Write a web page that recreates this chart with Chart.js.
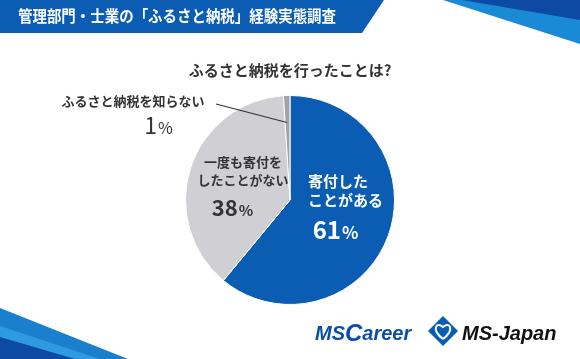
<!DOCTYPE html>
<html>
<head>
<meta charset="utf-8">
<script src="https://cdn.jsdelivr.net/npm/chart.js@4/dist/chart.umd.min.js"></script>
<style>
  html, body { margin: 0; padding: 0; background: #fff; }
  #wrap { width: 580px; height: 359px; position: relative; }
</style>
</head>
<body>
<div id="wrap"><canvas id="pie" width="580" height="359"></canvas></div>
<script>
  const headerTitle = '管理部門・士業の「ふるさと納税」経験実態調査';
  const question = 'ふるさと納税を行ったことは?';
  const categories = [['寄付した', 'ことがある'], ['一度も寄付を', 'したことがない'], ['ふるさと納税を知らない']];
  const shares = [61, 38, 1];
  const sliceColors = ['#0b5db3', '#d0d0d4', '#a3a3a6'];

  const JP = '"Noto Sans CJK JP", "Noto Sans", sans-serif';
  const LOGO = '"Liberation Sans", Arial, sans-serif';

  function poly(ctx, pts, color) {
    ctx.fillStyle = color;
    ctx.beginPath();
    ctx.moveTo(pts[0][0], pts[0][1]);
    for (let i = 1; i < pts.length; i++) ctx.lineTo(pts[i][0], pts[i][1]);
    ctx.closePath();
    ctx.fill();
  }

  // number big, % sign smaller, centred on x
  function percent(ctx, value, x, y, size, weight) {
    ctx.save();
    ctx.textAlign = 'left';
    ctx.textBaseline = 'alphabetic';
    const num = String(value);
    ctx.font = weight + ' ' + size + 'px ' + JP;
    const w1 = ctx.measureText(num).width;
    ctx.font = weight + ' ' + Math.round(size * 0.7) + 'px ' + JP;
    const w2 = ctx.measureText('%').width;
    const left = x - (w1 + w2) / 2;
    ctx.font = weight + ' ' + size + 'px ' + JP;
    ctx.fillText(num, left, y);
    ctx.font = weight + ' ' + Math.round(size * 0.7) + 'px ' + JP;
    ctx.fillText('%', left + w1 + 1, y);
    ctx.restore();
  }

  // banner, corner stripes, question text
  const decorPlugin = {
    id: 'decor',
    beforeDraw: (chart) => {
      const ctx = chart.ctx;
      ctx.save();
      poly(ctx, [[0, 0], [384, 0], [362, 33], [0, 33]], '#0b5db3');
      poly(ctx, [[443, 0], [580, 0], [580, 44]], '#1a8ad6');
      poly(ctx, [[462, 0], [580, 0], [580, 20]], '#0d4aa6');
      poly(ctx, [[0, 308], [128, 359], [0, 359]], '#1a7fcc');
      poly(ctx, [[0, 326], [100, 359], [0, 359]], '#2f9ae0');
      poly(ctx, [[0, 337], [75, 359], [0, 359]], '#0d4aa6');

      ctx.fillStyle = '#ffffff';
      ctx.font = 'bold 16px ' + JP;
      ctx.textBaseline = 'middle';
      ctx.textAlign = 'left';
      ctx.fillText(headerTitle, 18, 16, 318);

      ctx.fillStyle = '#333333';
      ctx.font = 'bold 15px ' + JP;
      ctx.textAlign = 'center';
      ctx.fillText(question, 290, 70);
      ctx.restore();
    }
  };

  // slice labels, leader line and logos
  const labelPlugin = {
    id: 'sliceLabels',
    afterDraw: (chart) => {
      const ctx = chart.ctx;
      const arcs = chart.getDatasetMeta(0).data;
      const cx = arcs[0].x, cy = arcs[0].y, r = arcs[0].outerRadius;
      ctx.save();
      ctx.textAlign = 'center';
      ctx.textBaseline = 'middle';

      // 61%
      ctx.fillStyle = '#ffffff';
      ctx.font = 'bold 15px ' + JP;
      ctx.textAlign = 'left';
      ctx.fillText(categories[0][0], cx + 18, cy - 19);
      ctx.fillText(categories[0][1], cx + 18, cy);
      ctx.textAlign = 'center';
      percent(ctx, shares[0], cx + 45, cy + 39, 24, 'bold');

      // 38%
      ctx.fillStyle = '#333333';
      ctx.font = 'bold 13px ' + JP;
      ctx.fillText(categories[1][0], cx - 47, cy - 38);
      ctx.fillText(categories[1][1], cx - 47, cy - 20);
      percent(ctx, shares[1], cx - 58, cy + 16, 22, 'bold');

      // 1%
      ctx.font = 'bold 13px ' + JP;
      ctx.fillText(categories[2][0], 133, 101);
      percent(ctx, shares[2], 158, 134, 23, 'normal');

      ctx.strokeStyle = '#333333';
      ctx.lineWidth = 1.2;
      ctx.beginPath();
      ctx.moveTo(216, 104);
      ctx.lineTo(cx - 3, cy - r + 27);
      ctx.stroke();

      // logos
      ctx.textAlign = 'left';
      ctx.textBaseline = 'alphabetic';
      ctx.fillStyle = '#0b4ea8';
      ctx.font = 'italic bold 20px ' + LOGO;
      ctx.fillText('MS', 315, 340);
      const wMS = ctx.measureText('MS').width;
      ctx.font = 'italic bold 24px ' + LOGO;
      ctx.fillText('C', 315 + wMS, 341);
      const wC = ctx.measureText('C').width;
      ctx.font = 'italic bold 20px ' + LOGO;
      ctx.fillText('areer', 315 + wMS + wC, 340);

      // diamond mark
      const dx = 443, dy = 331;
      ctx.fillStyle = '#0b5db3';
      ctx.beginPath();
      ctx.moveTo(dx, dy - 15); ctx.lineTo(dx + 15, dy); ctx.lineTo(dx, dy + 15); ctx.lineTo(dx - 15, dy);
      ctx.closePath(); ctx.fill();
      ctx.strokeStyle = '#ffffff';
      ctx.lineWidth = 2;
      ctx.beginPath();
      ctx.moveTo(dx, dy + 8);
      ctx.bezierCurveTo(dx - 12, dy - 1, dx - 7, dy - 10, dx, dy - 4);
      ctx.bezierCurveTo(dx + 7, dy - 10, dx + 12, dy - 1, dx, dy + 8);
      ctx.stroke();

      ctx.fillStyle = '#111111';
      ctx.font = 'italic bold 20px ' + LOGO;
      ctx.fillText('MS-Japan', 462, 340, 96);
      ctx.restore();
    }
  };

  new Chart(document.getElementById('pie').getContext('2d'), {
    type: 'pie',
    data: {
      labels: categories.map(c => c.join('')),
      datasets: [{
        data: shares,
        backgroundColor: sliceColors,
        borderColor: '#ffffff',
        borderWidth: 1
      }]
    },
    options: {
      responsive: false,
      animation: false,
      layout: { padding: { left: 185, right: 185, top: 95, bottom: 54 } },
      plugins: {
        legend: { display: false },
        tooltip: { enabled: false }
      }
    },
    plugins: [decorPlugin, labelPlugin]
  });
</script>
</body>
</html>
